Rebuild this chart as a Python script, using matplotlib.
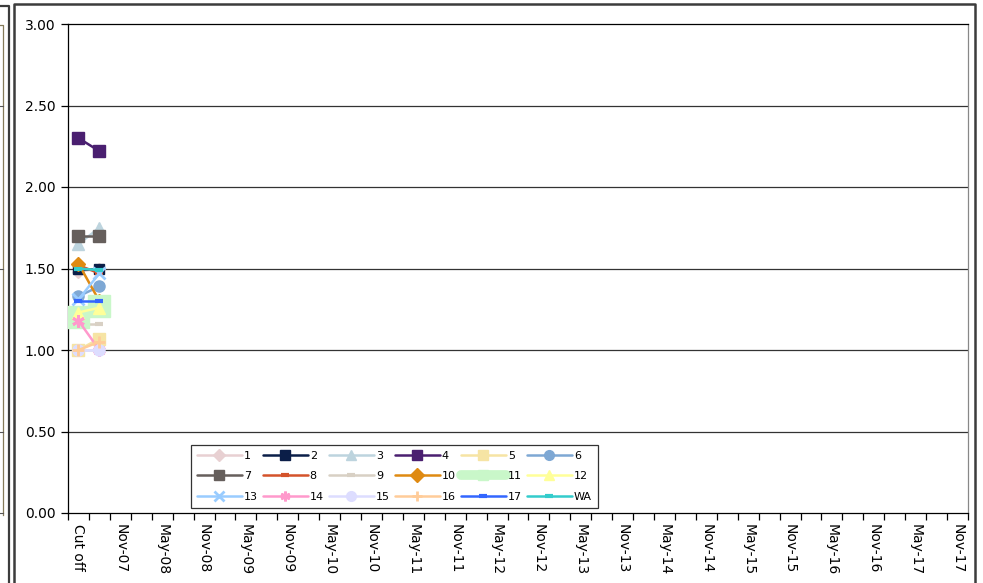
import matplotlib
matplotlib.use("Agg")
import matplotlib.pyplot as plt
from matplotlib.lines import Line2D

W, H = 983, 583

CATEGORIES = [
    "Cut off", "Aug-07", "Nov-07",
    "Feb-08", "May-08", "Aug-08", "Nov-08",
    "Feb-09", "May-09", "Aug-09", "Nov-09",
    "Feb-10", "May-10", "Aug-10", "Nov-10",
    "Feb-11", "May-11", "Aug-11", "Nov-11",
    "Feb-12", "May-12", "Aug-12", "Nov-12",
    "Feb-13", "May-13", "Aug-13", "Nov-13",
    "Feb-14", "May-14", "Aug-14", "Nov-14",
    "Feb-15", "May-15", "Aug-15", "Nov-15",
    "Feb-16", "May-16", "Aug-16", "Nov-16",
    "Feb-17", "May-17", "Aug-17", "Nov-17",
]

# values for the periods reported so far (Cut off, Aug-07)
SERIES = ["1", "2", "3", "4", "5", "6", "7", "8", "9", "10",
          "11", "12", "13", "14", "15", "16", "17", "WA"]
S1 = [1.48, 1.50]
S2 = [1.50, 1.50]
S3 = [1.65, 1.75]
S4 = [2.30, 2.22]
S5 = [1.00, 1.07]
S6 = [1.33, 1.39]
S7 = [1.70, 1.70]
S8 = [1.52, 1.47]
S9 = [1.16, 1.16]
S10 = [1.53, 1.30]
S11 = [1.20, 1.27]
S12 = [1.23, 1.26]
S13 = [1.31, 1.47]
S14 = [1.18, 1.00]
S15 = [1.00, 1.00]
S16 = [1.00, 1.05]
S17 = [1.30, 1.30]
SWA = [1.50, 1.49]
VALUES = [S1, S2, S3, S4, S5, S6, S7, S8, S9, S10,
          S11, S12, S13, S14, S15, S16, S17, SWA]

STYLES = {
    "1":  dict(color="#E8D0D2", marker="D", ms=6),
    "2":  dict(color="#0B1E48", marker="s", ms=7),
    "3":  dict(color="#BDD4DE", marker="^", ms=8),
    "4":  dict(color="#4A1F70", marker="s", ms=8),
    "5":  dict(color="#F6E4A4", marker="s", ms=8),
    "6":  dict(color="#7EA8D4", marker="o", ms=8),
    "7":  dict(color="#665F5C", marker="s", ms=8),
    "8":  dict(color="#D4532B", marker="_", ms=6, mew=3),
    "9":  dict(color="#D8D0C4", marker="_", ms=6, mew=3),
    "10": dict(color="#DF8A12", marker="D", ms=7),
    "11": dict(color="#C9F7C9", marker="s", ms=16, lw=5),
    "12": dict(color="#FFFF99", marker="^", ms=8),
    "13": dict(color="#99CCFF", marker="x", ms=8, mew=2),
    "14": dict(color="#FF99CC", marker=(6, 2, 0), ms=9, mew=2),
    "15": dict(color="#DDDDFF", marker="o", ms=8),
    "16": dict(color="#FFCC99", marker="+", ms=9, mew=2),
    "17": dict(color="#3366FF", marker="_", ms=6, mew=3),
    "WA": dict(color="#33CCCC", marker="_", ms=6, mew=3),
}

fig = plt.figure(figsize=(W / 100, H / 100), dpi=100)
fig.patch.set_facecolor("white")

# outer frames (this chart and the edge of the neighbouring one)
def fline(xs, ys, **kw):
    fig.add_artist(Line2D([x / W for x in xs], [1 - y / H for y in ys], **kw))

fline([0, 8.5, 8.5], [6, 6, H + 5], color="#3c3c3c", lw=1.6)
fline([0, 3, 3], [25, 25, 515], color="#857a5a", lw=0.9)
for yy in (106, 269, 432, 513):
    fline([0, 3], [yy, yy], color="#555555", lw=0.8)
fline([14, 14, 974.5, 974.5], [H + 5, 3.5, 3.5, H + 5], color="#3c3c3c", lw=1.8)

ax = fig.add_axes([68 / W, 1 - 513 / H, 900 / W, 489 / H])
ax.set_xlim(-0.5, len(CATEGORIES) - 0.5)
ax.set_ylim(0, 3.0)

for yv in (0.5, 1.0, 1.5, 2.0, 2.5):
    ax.axhline(yv, color="#333333", lw=0.9, zorder=1)

for name, vals in zip(SERIES, VALUES):
    st = dict(STYLES[name])
    lw = st.pop("lw", 1.8)
    ax.plot(range(len(vals)), vals, lw=lw, solid_capstyle="round",
            markeredgecolor=st["color"], zorder=3, **st)

for sp in ax.spines.values():
    sp.set_color("black")
    sp.set_linewidth(0.9)
ax.spines["right"].set_color("#888888")

ax.set_yticks([0, 0.5, 1.0, 1.5, 2.0, 2.5, 3.0])
ax.set_yticklabels([f"{v:.2f}" for v in [0, 0.5, 1.0, 1.5, 2.0, 2.5, 3.0]])
ax.tick_params(axis="y", direction="out", length=5, width=0.9, pad=4,
               labelsize=10, colors="black")

ax.set_xticks(range(0, len(CATEGORIES), 2))
ax.set_xticklabels(CATEGORIES[::2], rotation=-90, va="top", ha="center")
ax.set_xticks([i - 0.5 for i in range(len(CATEGORIES) + 1)], minor=True)
ax.tick_params(axis="x", which="major", length=0, pad=8, labelsize=10)
ax.tick_params(axis="x", which="minor", direction="out", length=5, width=0.9)

# legend, filled row by row like the spreadsheet legend
handles = []
for name in SERIES:
    st = dict(STYLES[name])
    lw = st.pop("lw", 1.8)
    st["ms"] = min(st["ms"], 7)
    if name == "11":
        lw = 7
    handles.append(Line2D([], [], lw=lw, solid_capstyle="round",
                          markeredgecolor=st["color"], **st))
nrow, ncol = 3, 6
order = [r * ncol + c for c in range(ncol) for r in range(nrow)]
leg = fig.legend([handles[i] for i in order], [SERIES[i] for i in order],
                 ncol=ncol, loc="lower left", mode="expand",
                 bbox_to_anchor=(191 / W, 1 - 508 / H, 407 / W, 62 / H),
                 fontsize=8, handlelength=4.0, handletextpad=0.2,
                 labelspacing=0.95, borderpad=0.55, columnspacing=0.6,
                 numpoints=1, frameon=True, fancybox=False, borderaxespad=0)
leg.get_frame().set_edgecolor("black")
leg.get_frame().set_linewidth(0.9)

fig.savefig("out.png", dpi=100, facecolor="white")
